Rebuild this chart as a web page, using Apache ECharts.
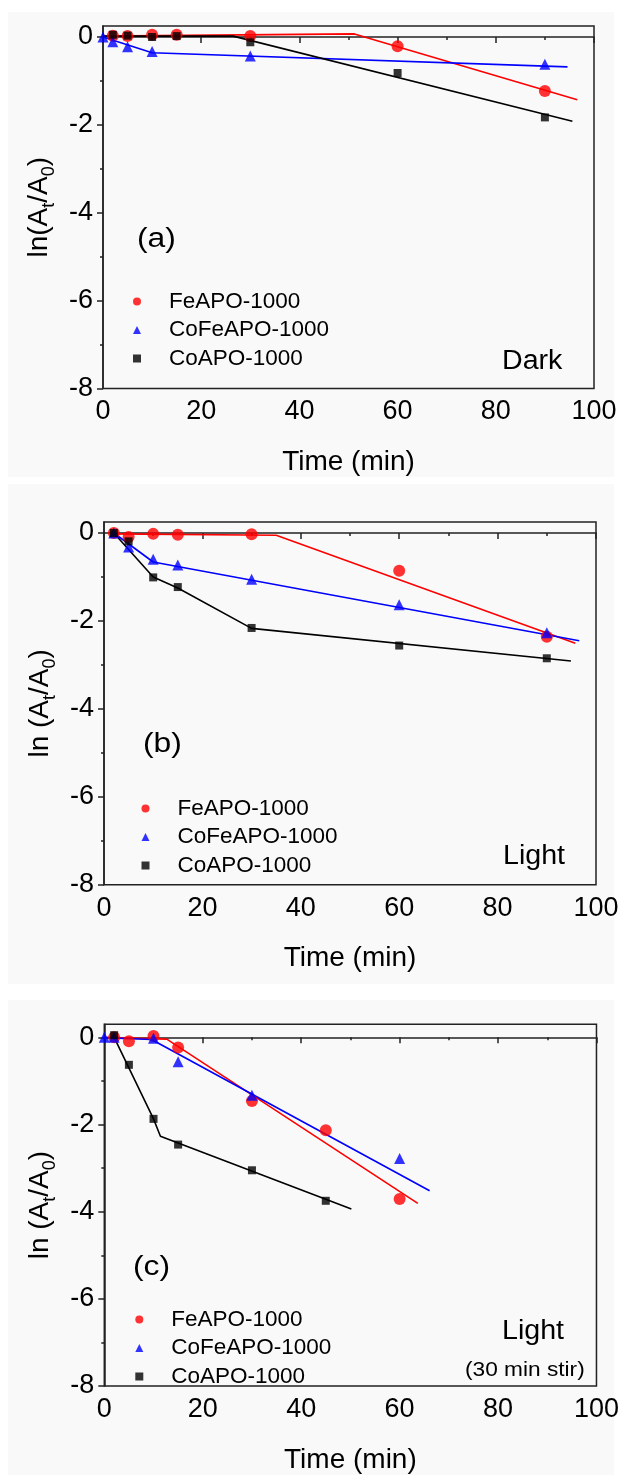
<!DOCTYPE html>
<html><head><meta charset="utf-8">
<script src="https://cdn.jsdelivr.net/npm/echarts@6/dist/echarts.min.js"></script>
<style>html,body{margin:0;padding:0;background:#fff}#c{width:622px;height:1475px}</style>
</head><body><div id="c"></div>
<script>
// ---------------- DATA ----------------
const seriesNames = ['FeAPO-1000', 'CoFeAPO-1000', 'CoAPO-1000'];
const xTicks = [0, 20, 40, 60, 80, 100];
const yTicks = [-8, -6, -4, -2, 0];
const yMinorTicks = [-7, -5, -3, -1];

// Panel (a) Dark
const timeA = [2, 5, 10, 15, 30, 60, 90];
const feA = [0.03, 0.02, 0.05, 0.05, 0.02, -0.21, -1.23];
const coA = [0.05, 0.03, 0.0, 0.02, -0.12, -0.82, -1.83];
const timeCoFeA = [0, 2, 5, 10, 30, 90];
const cofeA = [0.0, -0.11, -0.22, -0.33, -0.43, -0.62];
const feFitA = [[0, 0.02], [51.2, 0.07], [96.6, -1.43]];
const cofeFitA = [[0, 0.0], [10, -0.36], [94.6, -0.68]];
const coFitA = [[0, 0.02], [26.5, 0.02], [95.6, -1.92]];

// Panel (b) Light
const timeB = [2, 5, 10, 15, 30, 60, 90];
const feB = [0.0, -0.09, -0.02, -0.04, -0.03, -0.86, -2.36];
const cofeB = [0.0, -0.32, -0.60, -0.73, -1.05, -1.63, -2.27];
const coB = [0.0, -0.19, -1.01, -1.23, -2.16, -2.56, -2.85];
const feFitB = [[1.5, -0.02], [35, -0.05], [95.8, -2.51]];
const cofeFitB = [[2, 0.0], [10, -0.66], [96.6, -2.45]];
const coFitB = [[2, 0.0], [10, -1.0], [15, -1.25], [30, -2.17], [94.9, -2.91]];

// Panel (c) Light (30 min stir)
const timeFeC = [2, 5, 10, 15, 30, 45, 60];
const feC = [0.0, -0.09, 0.03, -0.23, -1.46, -2.13, -3.71];
const timeCoFeC = [0, 2, 10, 15, 30, 60];
const cofeC = [0.0, 0.0, -0.02, -0.56, -1.33, -2.78];
const timeCoC = [2, 5, 10, 15, 30, 45];
const coC = [0.05, -0.63, -1.87, -2.46, -3.05, -3.75];
const feFitC = [[0, 0.0], [12.7, -0.04], [63.7, -3.81]];
const cofeFitC = [[-1.7, 0.0], [9.6, -0.05], [66.1, -3.52]];
const coFitC = [[2, 0.0], [10, -1.87], [11.4, -2.27], [50.2, -3.94]];

// ---------------- STYLE ----------------
const FONT = '"Liberation Sans", Arial, sans-serif';
const INK = '#000';
const colors = ['#ff0000', '#0000ff', '#000000'];
const symbols = ['circle', 'triangle', 'rect'];
const symSizes = [12, 11, 8];

const panels = [
  {grid: {left: 103, top: 26, width: 491, height: 362.5}, yMax: 0.25, yName: 'ln(A{s|t}/A{s|0})',
   pts: [[timeA, feA], [timeCoFeA, cofeA], [timeA, coA]], fits: [feFitA, cofeFitA, coFitA]},
  {grid: {left: 104, top: 522, width: 492, height: 362.7}, yMax: 0.25, yName: 'ln (A{s|t}/A{s|0})',
   pts: [[timeB, feB], [timeB, cofeB], [timeB, coB]], fits: [feFitB, cofeFitB, coFitB]},
  {grid: {left: 104.3, top: 1024.3, width: 492.7, height: 364.7}, yMax: 0.3, yName: 'ln (A{s|t}/A{s|0})',
   pts: [[timeFeC, feC], [timeCoFeC, cofeC], [timeCoC, coC]], fits: [feFitC, cofeFitC, coFitC]}
];

const grids = [], xAxes = [], yAxes = [], series = [];
panels.forEach((p, i) => {
  grids.push(Object.assign({show: true, borderColor: '#222', borderWidth: 1.5, backgroundColor: 'transparent'}, p.grid));
  xAxes.push({
    type: 'value', gridIndex: i, min: 0, max: 100, interval: 20,
    name: 'Time (min)', nameLocation: 'middle', nameGap: 60,
    nameTextStyle: {fontFamily: FONT, fontSize: 28, color: INK},
    axisLine: {show: true, lineStyle: {color: '#222', width: 1.5}},
    axisTick: {show: true, length: 6, lineStyle: {color: '#222', width: 1.5}},
    minorTick: {show: true, splitNumber: 2, length: 3, lineStyle: {color: '#222', width: 1.5}},
    axisLabel: {fontFamily: FONT, fontSize: 27, color: INK, margin: 10},
    splitLine: {show: false}
  });
  yAxes.push({
    type: 'value', gridIndex: i, min: -8, max: p.yMax, position: 'left',
    name: p.yName, nameLocation: 'middle', nameGap: 45, nameRotate: 90,
    nameTextStyle: {fontFamily: FONT, fontSize: 28, color: INK,
      rich: {s: {fontFamily: FONT, fontSize: 18, color: INK, verticalAlign: 'bottom', lineHeight: 38}}},
    axisLine: {show: true, lineStyle: {color: '#222', width: 1.5}},
    axisTick: {show: true, length: 6, customValues: yTicks, lineStyle: {color: '#222', width: 1.5}},
    axisLabel: {fontFamily: FONT, fontSize: 27, color: INK, margin: 10, customValues: yTicks},
    splitLine: {show: false}
  });
  // overlay axis for minor ticks
  yAxes.push({
    type: 'value', gridIndex: i, min: -8, max: p.yMax, position: 'left',
    axisLine: {show: false},
    axisTick: {show: true, length: 3, customValues: yMinorTicks, lineStyle: {color: '#222', width: 1.5}},
    axisLabel: {show: false, customValues: yMinorTicks},
    splitLine: {show: false}
  });
  for (let k = 0; k < 3; k++) {
    series.push({
      type: 'line', name: seriesNames[k] + ' fit', xAxisIndex: i, yAxisIndex: 2 * i,
      data: p.fits[k], showSymbol: false, symbol: 'none', clip: false,
      lineStyle: {color: colors[k], width: 1.6}, z: 2, silent: true
    });
  }
  for (let k = 0; k < 3; k++) {
    const [xs, ys] = p.pts[k];
    series.push({
      type: 'scatter', name: seriesNames[k], xAxisIndex: i, yAxisIndex: 2 * i,
      data: xs.map((x, j) => [x, ys[j]]), symbol: symbols[k], symbolSize: symSizes[k],
      itemStyle: {color: colors[k]}, z: 5, clip: false
    });
  }
});

const legendPos = [{left: 133, top: 290}, {left: 141.5, top: 797}, {left: 135.3, top: 1308}];
const legends = legendPos.map(lp => ({
  left: lp.left, top: lp.top, orient: 'vertical', itemGap: 5.5, itemWidth: 8, itemHeight: 8,
  selectedMode: false, padding: 0,
  textStyle: {fontFamily: FONT, fontSize: 22.5, color: INK, lineHeight: 22, padding: [0, 0, 0, 23]},
  data: seriesNames.map((n, k) => ({name: n, icon: symbols[k], itemStyle: {color: colors[k]}}))
}));

function txt(text, x, y, size, sx) {
  return {type: 'text', x: x, y: y, scaleX: sx || 1, silent: true,
    style: {text: text, font: size + 'px ' + FONT, fill: INK, align: 'left', verticalAlign: 'middle'}};
}
const bg = [[8, 12, 606, 465], [8, 484, 606, 500], [8, 1000, 606, 475]].map(r => ({
  type: 'rect', shape: {x: r[0], y: r[1], width: r[2], height: r[3]}, style: {fill: '#f9f9f9'}, z: -10, silent: true
}));

const chart = echarts.init(document.getElementById('c'), null, {renderer: 'canvas'});
chart.setOption({
  animation: false,
  backgroundColor: '#ffffff',
  grid: grids, xAxis: xAxes, yAxis: yAxes, series: series, legend: legends,
  graphic: bg.concat([
    txt('(a)', 137, 240, 27, 1.18),
    txt('Dark', 502, 362, 27, 1.06),
    txt('(b)', 143, 745, 27, 1.18),
    txt('Light', 503, 857, 27, 1.06),
    txt('(c)', 133, 1268, 27, 1.18),
    txt('Light', 502, 1332, 27, 1.06),
    txt('(30 min stir)', 465, 1370, 21, 1.08)
  ])
});
</script></body></html>
